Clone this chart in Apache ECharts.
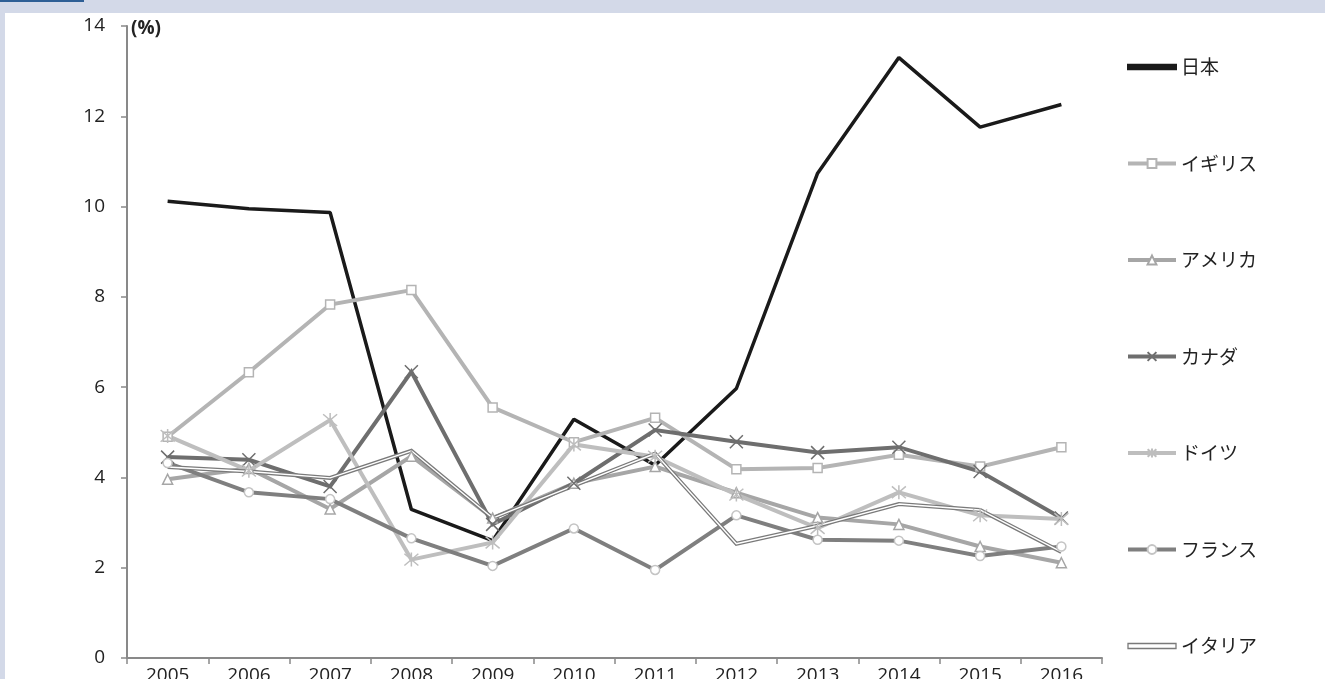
<!DOCTYPE html>
<html>
<head>
<meta charset="utf-8">
<script src="https://cdn.jsdelivr.net/npm/echarts@6/dist/echarts.min.js"></script>
<style>
  html, body { margin: 0; padding: 0; }
  body { width: 1325px; height: 679px; background: #d3d9e8; position: relative; overflow: hidden; }
  #tab { position: absolute; left: 0; top: 0; width: 84px; height: 2px; background: #2e5f95; }
  #chart { position: absolute; left: 5px; top: 13px; width: 1320px; height: 666px; background: #fff; }
</style>
</head>
<body>
<div id="tab"></div>
<div id="chart"></div>
<script>
// years on the x axis
const years = ['2005', '2006', '2007', '2008', '2009', '2010', '2011', '2012', '2013', '2014', '2015', '2016'];

// values (%)
const japan   = [10.12, 9.95, 9.87, 3.29, 2.6, 5.29, 4.27, 5.97, 10.74, 13.3, 11.76, 12.26];
const uk      = [4.9, 6.33, 7.83, 8.15, 5.55, 4.78, 5.32, 4.18, 4.21, 4.5, 4.24, 4.67];
const usa     = [3.96, 4.2, 3.3, 4.47, 3.1, 3.87, 4.24, 3.66, 3.11, 2.96, 2.47, 2.11];
const canada  = [4.45, 4.39, 3.8, 6.34, 2.96, 3.87, 5.05, 4.79, 4.55, 4.67, 4.13, 3.1];
const germany = [4.92, 4.15, 5.27, 2.18, 2.56, 4.73, 4.46, 3.62, 2.88, 3.67, 3.16, 3.08];
const france  = [4.32, 3.67, 3.52, 2.65, 2.04, 2.87, 1.95, 3.16, 2.62, 2.6, 2.26, 2.47];
const italy   = [4.23, 4.13, 3.99, 4.59, 3.1, 3.82, 4.53, 2.53, 2.93, 3.41, 3.28, 2.35];

const yTicks = [0, 2, 4, 6, 8, 10, 12, 14];

const CJK = '"Noto Sans CJK JP", "Noto Sans", sans-serif';
const NUM = '"Open Sans", "Noto Sans", sans-serif';
const XMARK = 'path://M0,0L10,10M10,0L0,10';
const STAR = 'path://M5,0L5,10M0.8,0.8L9.2,9.2M9.2,0.8L0.8,9.2';

function lineSeries(name, data, color, symbol, size, border) {
    return {
        name: name,
        type: 'line',
        data: data,
        symbol: symbol,
        symbolSize: size,
        showSymbol: symbol !== 'none',
        lineStyle: { color: color, width: 4, join: 'miter' },
        itemStyle: { color: '#fff', borderColor: border || color, borderWidth: 1.5 },
        emphasis: { disabled: true },
        animation: false
    };
}

const chart = echarts.init(document.getElementById('chart'));

const option = {
    backgroundColor: '#fff',
    textStyle: { fontFamily: CJK },
    grid: { left: 122, right: 223, top: 13, bottom: 21, outerBoundsMode: 'none', containLabel: false },
    xAxis: {
        type: 'category',
        data: years,
        boundaryGap: true,
        axisLine: { lineStyle: { color: '#898989', width: 2 } },
        axisTick: { show: true, length: 6, lineStyle: { color: '#898989', width: 1.5 } },
        axisLabel: { color: '#222', fontSize: 19, margin: 8, fontFamily: NUM },
        splitLine: { show: false }
    },
    yAxis: {
        type: 'value',
        min: yTicks[0],
        max: yTicks[yTicks.length - 1],
        interval: 2,
        name: '(%)',
        nameLocation: 'end',
        nameGap: -3,
        nameTextStyle: { align: 'left', verticalAlign: 'middle', fontWeight: 'bold', fontSize: 19, color: '#222', padding: [0, 0, 0, 4], fontFamily: NUM },
        axisLine: { show: true, lineStyle: { color: '#898989', width: 2 } },
        axisTick: { show: true, length: 6, lineStyle: { color: '#898989', width: 1.5 } },
        axisLabel: { color: '#222', fontSize: 19, margin: 22, fontFamily: NUM },
        splitLine: { show: false }
    },
    legend: {
        orient: 'vertical',
        left: 1116,
        top: 39,
        itemWidth: 48,
        itemHeight: 11,
        itemGap: 76.5,
        selectedMode: false,
        lineStyle: { width: 4 },
        textStyle: { color: '#222', fontSize: 19, lineHeight: 20, fontFamily: CJK },
        data: [
            { name: '日本', icon: 'path://M0,0L48,0L48,4.5L0,4.5Z', itemStyle: { color: '#1a1a1a' } },
            { name: 'イギリス' },
            { name: 'アメリカ' },
            { name: 'カナダ' },
            { name: 'ドイツ' },
            { name: 'フランス' },
            { name: 'イタリア', icon: 'path://M0,0L48,0L48,5L0,5Z',
              itemStyle: { color: '#fff', borderColor: '#7a7a7a', borderWidth: 1.3 } }
        ]
    },
    series: [
        Object.assign(lineSeries('日本', japan, '#1a1a1a', 'none', 0), { lineStyle: { color: '#1a1a1a', width: 3.5 } }),
        lineSeries('イギリス', uk, '#b4b4b4', 'rect', 9),
        lineSeries('アメリカ', usa, '#a6a6a6', 'triangle', 10),
        lineSeries('カナダ', canada, '#6e6e6e', XMARK, 13),
        lineSeries('ドイツ', germany, '#bebebe', STAR, 14),
        lineSeries('フランス', france, '#7f7f7f', 'circle', 9, '#c4c4c4'),
        lineSeries('イタリア', italy, '#7a7a7a', 'none', 0),
        Object.assign(lineSeries('イタリア内線', italy, '#ffffff', 'none', 0), { lineStyle: { color: '#fff', width: 1.4 } })
    ]
};

chart.setOption(option);
</script>
</body>
</html>
